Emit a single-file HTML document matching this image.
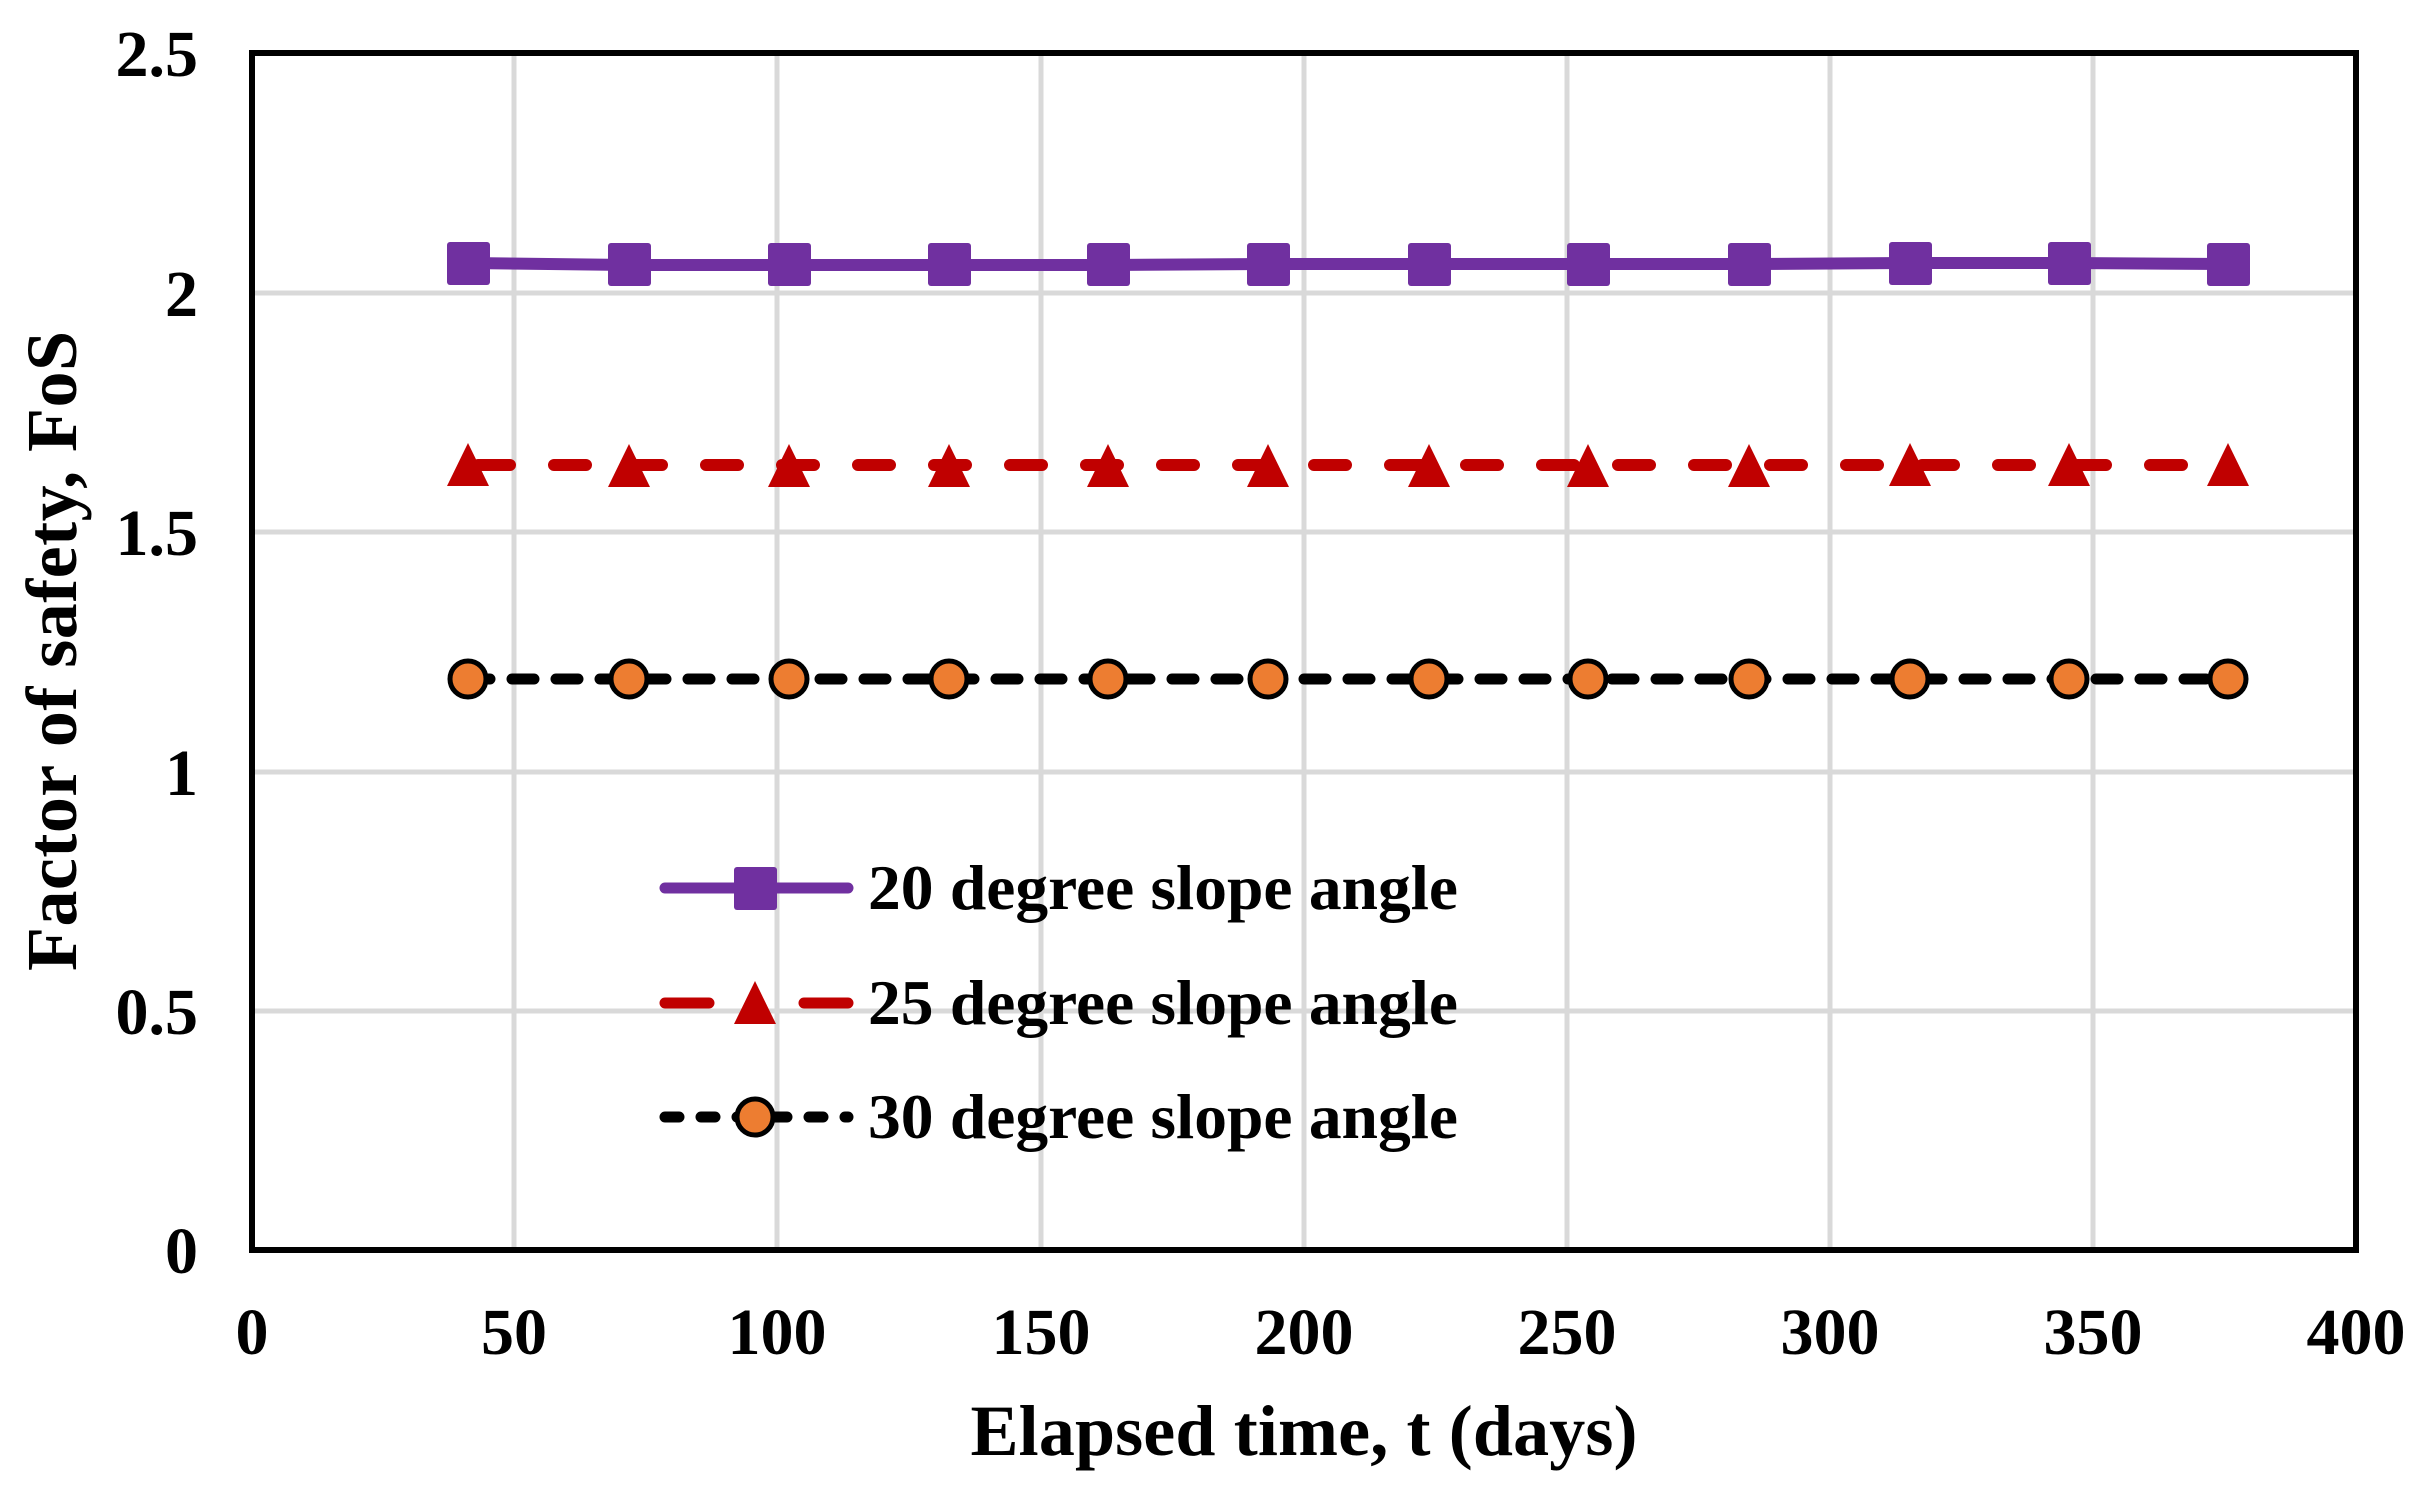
<!DOCTYPE html>
<html><head><meta charset="utf-8"><style>body{margin:0;background:#fff}svg{display:block}</style></head>
<body>
<svg width="2422" height="1490" viewBox="0 0 2422 1490" xmlns="http://www.w3.org/2000/svg" font-family="Liberation Serif, serif" font-weight="bold">
<rect width="2422" height="1490" fill="#fff"/>
<g stroke="#d9d9d9" stroke-width="5">
<line x1="514" y1="53" x2="514" y2="1250"/><line x1="777" y1="53" x2="777" y2="1250"/><line x1="1041" y1="53" x2="1041" y2="1250"/><line x1="1304" y1="53" x2="1304" y2="1250"/><line x1="1567" y1="53" x2="1567" y2="1250"/><line x1="1830" y1="53" x2="1830" y2="1250"/><line x1="2093" y1="53" x2="2093" y2="1250"/>
<line x1="252" y1="293" x2="2356" y2="293"/><line x1="252" y1="532" x2="2356" y2="532"/><line x1="252" y1="772" x2="2356" y2="772"/><line x1="252" y1="1011" x2="2356" y2="1011"/>
</g>
<rect x="252" y="53" width="2104" height="1197" fill="none" stroke="#000" stroke-width="6"/>
<g font-size="66" text-anchor="end">
<text x="198" y="76">2.5</text><text x="198" y="316">2</text><text x="198" y="555">1.5</text><text x="198" y="795">1</text><text x="198" y="1034">0.5</text><text x="198" y="1273">0</text>
</g>
<g font-size="66" text-anchor="middle">
<text x="252" y="1354">0</text><text x="514" y="1354">50</text><text x="777" y="1354">100</text><text x="1041" y="1354">150</text><text x="1304" y="1354">200</text><text x="1567" y="1354">250</text><text x="1830" y="1354">300</text><text x="2093" y="1354">350</text><text x="2356" y="1354">400</text>
</g>
<text x="1304" y="1455" font-size="72" text-anchor="middle" textLength="667">Elapsed time, t (days)</text>
<text transform="translate(76,651) rotate(-90)" font-size="72" text-anchor="middle" textLength="640">Factor of safety, FoS</text>
<polyline points="468,263 629,265 789,265 949,265 1108,265 1268,264 1429,264 1588,264 1749,264 1910,263 2069,263 2228,264" fill="none" stroke="#7030a0" stroke-width="12"/>
<polyline points="468,465 2228,465" fill="none" stroke="#c00000" stroke-width="12" stroke-dasharray="32 44" stroke-linecap="round" stroke-dashoffset="-10"/>
<polyline points="468,679 2228,679" fill="none" stroke="#000" stroke-width="11" stroke-dasharray="22 22" stroke-linecap="round"/>
<g fill="#7030a0">
<rect x="447" y="242" width="43" height="43" rx="3"/><rect x="608" y="243" width="43" height="43" rx="3"/><rect x="768" y="243" width="43" height="43" rx="3"/><rect x="928" y="243" width="43" height="43" rx="3"/><rect x="1087" y="243" width="43" height="43" rx="3"/><rect x="1247" y="243" width="43" height="43" rx="3"/><rect x="1408" y="243" width="43" height="43" rx="3"/><rect x="1567" y="243" width="43" height="43" rx="3"/><rect x="1728" y="243" width="43" height="43" rx="3"/><rect x="1889" y="242" width="43" height="43" rx="3"/><rect x="2048" y="242" width="43" height="43" rx="3"/><rect x="2207" y="243" width="43" height="43" rx="3"/>
</g>
<g fill="#c00000">
<path d="M0,-22 L21,21 L-21,21 Z" transform="translate(468,465)"/>
<path d="M0,-22 L21,21 L-21,21 Z" transform="translate(629,466)"/><path d="M0,-22 L21,21 L-21,21 Z" transform="translate(789,466)"/><path d="M0,-22 L21,21 L-21,21 Z" transform="translate(949,466)"/><path d="M0,-22 L21,21 L-21,21 Z" transform="translate(1108,466)"/><path d="M0,-22 L21,21 L-21,21 Z" transform="translate(1268,466)"/><path d="M0,-22 L21,21 L-21,21 Z" transform="translate(1429,466)"/><path d="M0,-22 L21,21 L-21,21 Z" transform="translate(1588,466)"/><path d="M0,-22 L21,21 L-21,21 Z" transform="translate(1749,466)"/><path d="M0,-22 L21,21 L-21,21 Z" transform="translate(1910,465)"/><path d="M0,-22 L21,21 L-21,21 Z" transform="translate(2069,465)"/><path d="M0,-22 L21,21 L-21,21 Z" transform="translate(2228,465)"/>
</g>
<g fill="#ed7d31" stroke="#000" stroke-width="5">
<circle cx="468" cy="679" r="18"/><circle cx="629" cy="679" r="18"/><circle cx="789" cy="679" r="18"/><circle cx="949" cy="679" r="18"/><circle cx="1108" cy="679" r="18"/><circle cx="1268" cy="679" r="18"/><circle cx="1429" cy="679" r="18"/><circle cx="1588" cy="679" r="18"/><circle cx="1749" cy="679" r="18"/><circle cx="1910" cy="679" r="18"/><circle cx="2069" cy="679" r="18"/><circle cx="2228" cy="679" r="18"/>
</g>
<line x1="665" y1="888" x2="848" y2="888" stroke="#7030a0" stroke-width="11" stroke-linecap="round"/>
<rect x="734" y="867" width="43" height="43" rx="3" fill="#7030a0"/>
<line x1="665" y1="1003" x2="848" y2="1003" stroke="#c00000" stroke-width="11" stroke-dasharray="44 95 44" stroke-linecap="round"/>
<path d="M0,-22 L21,21 L-21,21 Z" transform="translate(755,1003)" fill="#c00000"/>
<line x1="665" y1="1117" x2="848" y2="1117" stroke="#000" stroke-width="11" stroke-dasharray="14 22" stroke-linecap="round"/>
<circle cx="755" cy="1117" r="18" fill="#ed7d31" stroke="#000" stroke-width="5"/>
<g font-size="64">
<text x="868" y="909" textLength="590" lengthAdjust="spacingAndGlyphs">20 degree slope angle</text>
<text x="868" y="1024" textLength="590" lengthAdjust="spacingAndGlyphs">25 degree slope angle</text>
<text x="868" y="1138" textLength="590" lengthAdjust="spacingAndGlyphs">30 degree slope angle</text>
</g>
</svg>
</body></html>
